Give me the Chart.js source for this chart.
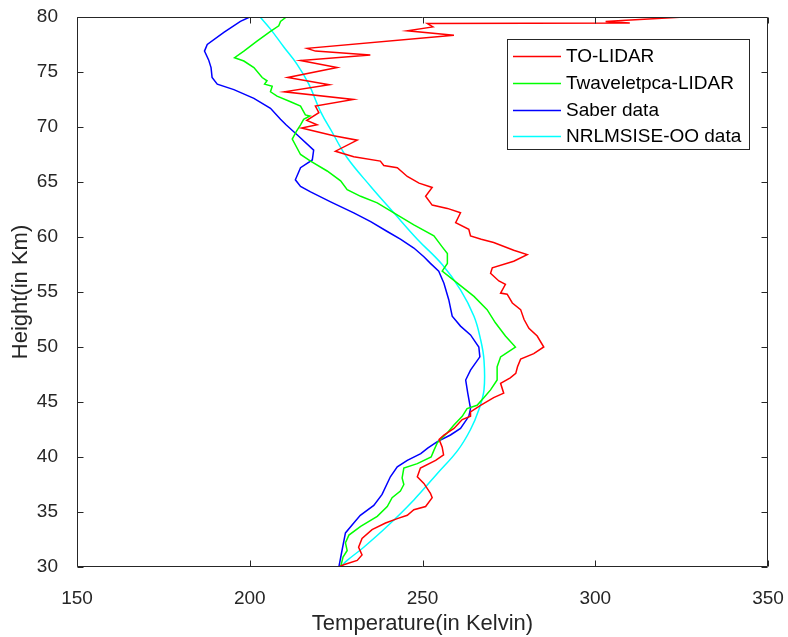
<!DOCTYPE html>
<html><head><meta charset="utf-8">
<script src="https://cdn.jsdelivr.net/npm/chart.js@4/dist/chart.umd.min.js"></script>
<style>html,body{margin:0;padding:0;background:#fff}</style>
</head><body>
<canvas id="c" width="788" height="637"></canvas>
<script>
// ---- data (heights in km, temperatures in K) ----
const seriesNames = ['TO-LIDAR', 'Twaveletpca-LIDAR', 'Saber data', 'NRLMSISE-OO data'];
const xTicks = [150, 200, 250, 300, 350];
const yTicks = [30, 35, 40, 45, 50, 55, 60, 65, 70, 75, 80];

const toLidarHeight = [80.0,79.7,79.6,79.45,79.4,79.1,78.75,78.35,77.15,76.9,76.55,76.05,75.4,74.5,73.85,73.2,72.5,71.9,71.3,70.6,70.2,69.9,69.2,68.8,67.8,67.3,66.9,66.5,66.3,65.5,64.9,64.5,63.7,62.9,62.6,62.2,61.3,60.7,60.1,59.8,59.5,58.8,58.4,57.8,57.2,56.7,56.0,55.7,54.9,54.8,54.0,53.4,52.5,51.7,51.0,50.0,49.4,48.9,48.2,47.6,47.2,46.7,45.8,45.4,44.7,44.1,43.7,43.4,42.6,42.0,41.6,40.9,40.2,39.7,39.0,38.2,37.6,36.7,36.3,35.5,35.2,34.7,34.4,34.0,33.4,32.6,31.8,31.1,30.6,30.2,30.0];
const toLidarTemp = [325.7,309,303,310,251.4,253,245.6,259.1,216.6,219,234.9,214.7,225.3,211.0,223,210,230,219,220,216.5,219.5,215,224.3,231.1,224.8,230.1,237.8,238.8,242.7,245.6,249,252.8,250.9,252.8,257.2,261,259.6,263.4,263.9,267,270.6,276.4,280.3,276.4,270.2,269.7,272.1,274,272.6,274.5,276,278.4,279.4,280.8,283.2,285.1,282.2,278.4,277.5,277.0,275.4,272.6,273.5,270.6,266.8,263.9,263.9,261.5,259.1,256.2,254.8,255.7,256.1,253.8,249.4,248.5,250.4,252.3,252.8,250.9,247.5,245.6,242.7,239.3,235.4,232.5,231.5,232.5,231.1,227.2,225.8];

const waveletHeight = [80.0,79.6,79.2,78.7,77.8,76.9,76.3,76.0,75.4,74.5,74.2,73.9,73.7,73.2,72.8,72.3,71.9,71.1,71.0,70.7,70.2,69.6,68.9,67.5,66.9,66.0,65.1,64.3,63.7,63.1,62.2,61.1,60.1,59.1,58.5,57.6,56.9,55.8,54.6,53.4,52.2,51.0,50.0,49.3,49.1,48.2,47.0,46.1,45.4,44.7,44.4,43.7,42.9,42.2,41.6,41.3,40.6,40.0,39.4,39.0,38.1,37.5,36.9,36.3,35.5,34.6,33.7,32.9,32.2,31.5,30.9,30.0];
const waveletTemp = [210.6,208.9,208.4,206,202.1,198.3,195.6,198.3,201.2,203.6,205,204.3,206.5,206,207.9,211.8,214.7,216.1,217.4,215.6,214.7,213.5,212.3,214.7,217.6,222.4,226.3,228.2,232.1,236.9,241.7,247.5,253.3,255.7,257.2,257.2,255.7,260.1,264.9,268.7,271.1,274.0,276.9,273.6,272.6,271.6,271.6,269.7,267.8,265.8,262.9,261.5,259.1,257.2,255.2,254.3,253.3,252.5,248.5,244.6,244.1,244.6,243.6,241.2,239.8,236.9,232.1,228.7,227.7,228.2,227.0,226.3];

const saberHeight = [80.0,79.6,78.6,77.5,76.9,76.1,75.4,74.5,73.9,73.4,72.6,71.7,70.7,70.2,69.3,67.9,67.0,66.3,65.2,64.6,64.1,63.2,62.2,61.4,60.5,59.8,59.0,58.2,57.6,56.9,55.8,54.3,52.8,51.9,51.1,50.0,49.1,47.9,47.0,45.8,44.4,43.7,42.6,42.0,41.4,40.8,40.3,39.7,39.1,38.2,36.6,35.6,34.7,34.0,33.1,31.5,30.0];
const saberTemp = [200,197.3,192.5,187.7,186.9,188.1,188.8,189.1,190.6,195.4,201.2,206,208.9,210.5,213.7,218.5,218.1,214.7,213.2,214.7,217.6,223.4,230.1,235,239.8,243.6,247.5,250.4,252.3,254.7,256.2,257.6,258.6,261,263.9,266.3,266.6,263.9,262.5,263.1,263.9,263.4,261,258.1,254.3,251.5,249.5,245.6,242.7,240.7,238.3,235.9,232,230.1,227.7,226.7,225.8];

const msisHeight = [80.0,78.9,77.3,75.7,73.9,71.4,69.5,67.2,64.6,62.2,59.8,57.5,55.2,52.8,50.7,48.8,46.1,44.3,42.5,40.6,38.5,36.1,33.7,31.8,30.6,30.0];
const msisTemp = [203,206,209.8,213.7,217.1,220.5,223.9,228.2,235,241.7,248.5,255.7,261,264.9,266.8,267.8,267.8,266.3,263.9,260.2,254.3,247.5,239.8,233,228.2,226.3];

const seriesColors = ['#ff0000', '#00ff00', '#0000ff', '#00ffff'];

function pts(hs, ts) { return hs.map((h, i) => ({x: ts[i], y: h})); }

const FONT = '"Liberation Sans", Arial, Helvetica, sans-serif';
const AXC = '#262626';

const framePlugin = {
  id: 'frame',
  afterDatasetsDraw(chart) {
    const {ctx, chartArea: a, scales: {x, y}} = chart;
    ctx.save();
    ctx.strokeStyle = AXC;
    ctx.lineWidth = 1;
    const L = Math.round(a.left) + 0.5, R = Math.round(a.right) - 0.5;
    const T = Math.round(a.top) + 0.5, B = Math.round(a.bottom) - 0.5;
    ctx.beginPath();
    ctx.rect(L, T, R - L, B - T);
    const tl = 6;
    xTicks.forEach(v => {
      const p = Math.round(x.getPixelForValue(v)) + 0.5;
      ctx.moveTo(p, B); ctx.lineTo(p, B - tl);
      ctx.moveTo(p, T); ctx.lineTo(p, T + tl);
    });
    yTicks.forEach(v => {
      const p = Math.round(y.getPixelForValue(v)) + 0.5;
      ctx.moveTo(L, p); ctx.lineTo(L + tl, p);
      ctx.moveTo(R, p); ctx.lineTo(R - tl, p);
    });
    ctx.stroke();

    // legend box
    const bx = 507.5, by = 39.5, bw = 242, bh = 110;
    ctx.fillStyle = '#ffffff';
    ctx.fillRect(bx, by, bw, bh);
    ctx.strokeRect(bx, by, bw, bh);
    const rows = [56, 83, 110, 136];
    ctx.font = '19px ' + FONT;
    ctx.textBaseline = 'middle';
    ctx.textAlign = 'left';
    chart.data.datasets.forEach((ds, i) => {
      const ry = rows[i] + 0.5;
      ctx.strokeStyle = ds.borderColor;
      ctx.lineWidth = 1.5;
      ctx.beginPath();
      ctx.moveTo(513, ry); ctx.lineTo(561, ry);
      ctx.stroke();
      ctx.fillStyle = '#000000';
      ctx.fillText(ds.label, 566, rows[i] + 1);
    });
    ctx.restore();
  }
};

const datasets = [
  {label: seriesNames[0], data: pts(toLidarHeight, toLidarTemp), borderColor: seriesColors[0]},
  {label: seriesNames[1], data: pts(waveletHeight, waveletTemp), borderColor: seriesColors[1]},
  {label: seriesNames[2], data: pts(saberHeight, saberTemp), borderColor: seriesColors[2]},
  {label: seriesNames[3], data: pts(msisHeight, msisTemp), borderColor: seriesColors[3], tension: 0.4}
].map(d => Object.assign({showLine: true, pointRadius: 0, borderWidth: 1.5, fill: false, tension: 0}, d));

new Chart(document.getElementById('c'), {
  type: 'scatter',
  data: {datasets},
  plugins: [framePlugin],
  options: {
    responsive: false,
    animation: false,
    devicePixelRatio: 1,
    layout: {padding: {top: 17, right: 20, left: 0, bottom: 0}},
    plugins: {legend: {display: false}, tooltip: {enabled: false}},
    scales: {
      x: {
        type: 'linear', min: 150, max: 350,
        afterBuildTicks: s => { s.ticks = xTicks.map(v => ({value: v})); },
        afterFit: s => { s.height = 70; s.paddingLeft = 0; s.paddingRight = 0; },
        grid: {display: false}, border: {display: false},
        ticks: {color: AXC, font: {family: FONT, size: 19}, padding: 12, maxRotation: 0},
        title: {display: true, text: 'Temperature(in Kelvin)', color: AXC, font: {family: FONT, size: 22}, padding: {top: 0, bottom: 0}}
      },
      y: {
        type: 'linear', min: 30, max: 80,
        afterBuildTicks: s => { s.ticks = yTicks.map(v => ({value: v})); },
        afterFit: s => { s.width = 77; s.paddingTop = 0; s.paddingBottom = 0; },
        grid: {display: false}, border: {display: false},
        ticks: {color: AXC, font: {family: FONT, size: 19}, padding: 11},
        title: {display: true, text: 'Height(in Km)', color: AXC, font: {family: FONT, size: 22}, padding: {top: 8, bottom: 0}}
      }
    }
  }
});
</script>
</body></html>
